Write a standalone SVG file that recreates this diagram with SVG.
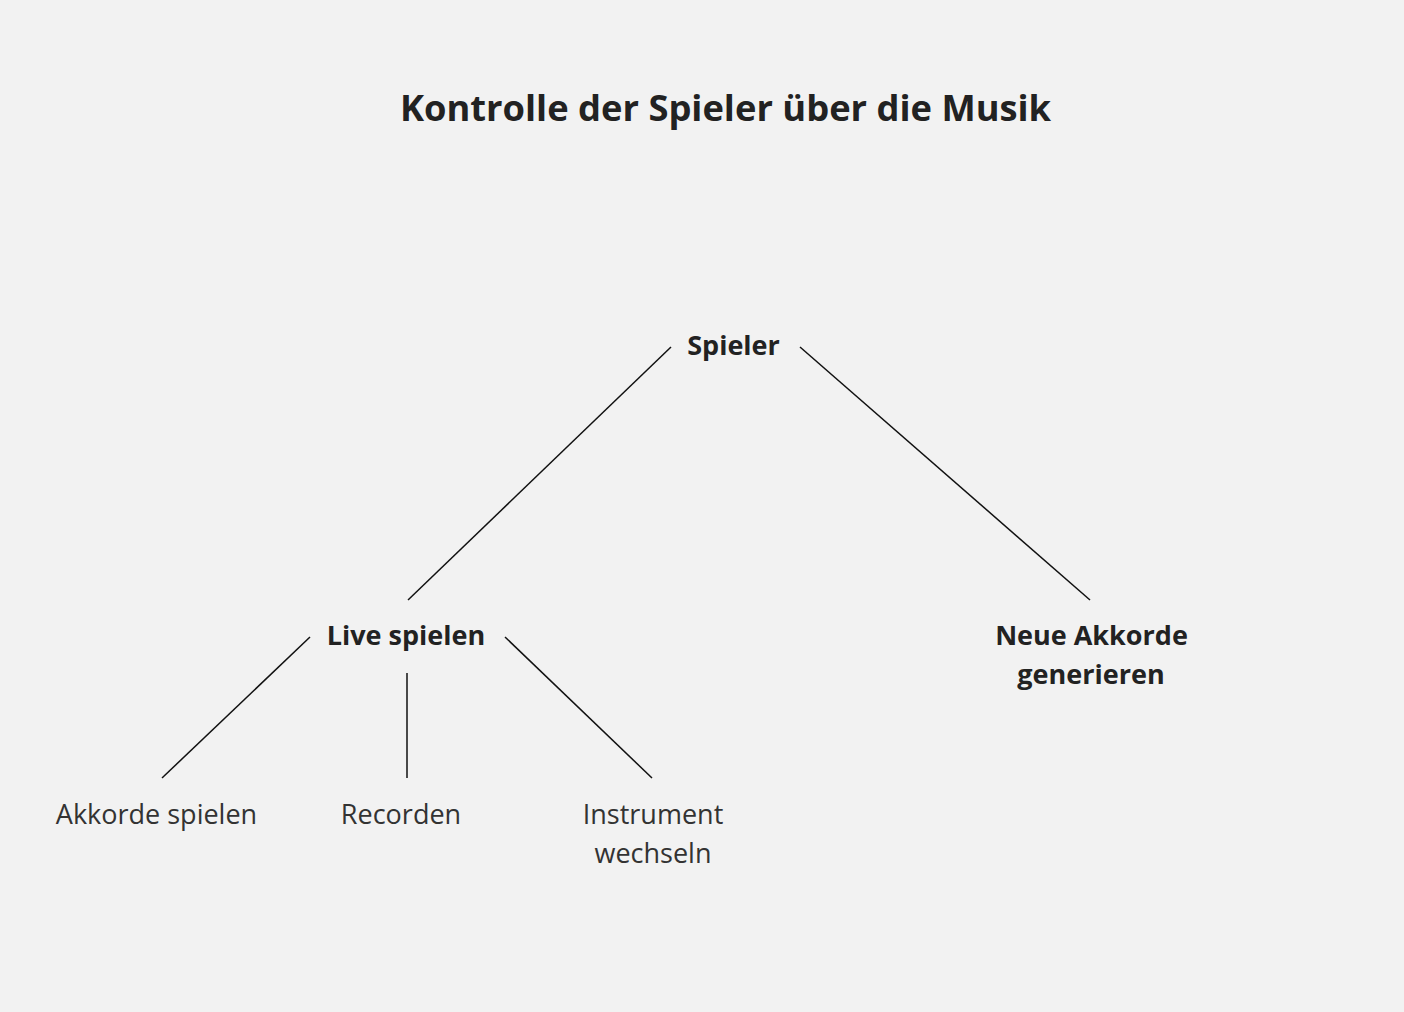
<svg xmlns="http://www.w3.org/2000/svg" width="1404" height="1012" viewBox="0 0 1404 1012">
<style>
text{font-family:"Open Sans","Noto Sans",sans-serif;text-anchor:middle}
.t{font-size:36.3px;font-weight:700;fill:#222}
.b{font-size:27px;font-weight:700;fill:#222}
.r{font-size:27px;font-weight:400;fill:#333}
.c line{stroke:#111;stroke-width:1.5}
</style>
<rect width="1404" height="1012" fill="#f2f2f2"/>
<text class="t" x="725.5" y="121">Kontrolle der Spieler über die Musik</text>
<g class="c" id="connectors">
<line x1="671" y1="347" x2="408" y2="600"/>
<line x1="800" y1="347" x2="1090" y2="600"/>
<line x1="310" y1="637" x2="162" y2="778"/>
<line x1="407" y1="673" x2="407" y2="778"/>
<line x1="505" y1="637" x2="652" y2="778"/>
</g>
<g id="spieler"><text class="b" x="733.5" y="355">Spieler</text></g>
<g id="live"><text class="b" x="406" y="645">Live spielen</text></g>
<g id="neue"><text class="b" x="1091.5" y="645">Neue Akkorde</text><text class="b" x="1091" y="684">generieren</text></g>
<g id="akkorde"><text class="r" x="156.5" y="824">Akkorde spielen</text></g>
<g id="recorden"><text class="r" x="401" y="824">Recorden</text></g>
<g id="instrument"><text class="r" x="653" y="824">Instrument</text><text class="r" x="653" y="863">wechseln</text></g>
</svg>
